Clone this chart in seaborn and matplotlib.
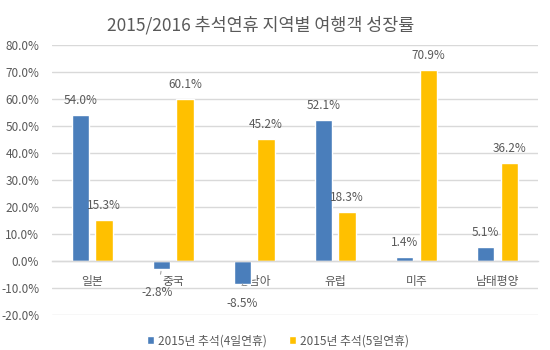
import matplotlib
matplotlib.use("Agg")
import matplotlib.pyplot as plt
import seaborn as sns
import pandas as pd
from matplotlib.ticker import FuncFormatter, MultipleLocator

regions = ["일본", "중국", "동남아", "유럽", "미주", "남태평양"]
series_names = ["2015년 추석(4일연휴)", "2015년 추석(5일연휴)"]
growth_4day = [54.0, -2.8, -8.5, 52.1, 1.4, 5.1]
growth_5day = [15.3, 60.1, 45.2, 18.3, 70.9, 36.2]
colors = ["#4a7ebb", "#ffc000"]

df = pd.DataFrame({
    "region": regions * 2,
    "series": [series_names[0]] * len(regions) + [series_names[1]] * len(regions),
    "value": growth_4day + growth_5day,
})

sns.set_theme(style="white")
plt.rcParams["font.family"] = ["Noto Sans CJK KR", "DejaVu Sans"]
text_color = "#595959"
grid_color = "#d9d9d9"

fig = plt.figure(figsize=(5.5, 3.5), dpi=100)
ax = fig.add_axes([0.094, 0.10, 0.884, 0.771])

sns.barplot(data=df, x="region", y="value", hue="series", order=regions,
            hue_order=series_names, palette=colors, width=0.58, gap=0.27,
            saturation=1, ax=ax, legend=True)

ax.set_ylim(-20, 80)
ax.set_xlim(-0.5, 5.5)
ax.yaxis.set_major_locator(MultipleLocator(10))
ax.yaxis.set_major_formatter(FuncFormatter(lambda v, p: f"{v:.1f}%"))
ax.grid(axis="y", color=grid_color, linewidth=1)
ax.set_axisbelow(True)
for side in ["top", "right", "left"]:
    ax.spines[side].set_visible(False)
ax.spines["bottom"].set_position(("data", 0))
ax.spines["bottom"].set_color(grid_color)
ax.spines["bottom"].set_linewidth(1)
ax.tick_params(axis="y", length=0, pad=9, labelsize=8.5, labelcolor=text_color)
ax.tick_params(axis="x", length=0, pad=10, labelsize=8.5, labelcolor=text_color)
ax.set_xlabel("")
ax.set_ylabel("")

# value labels: above positive bars, pushed below negative bars with leader lines
neg_offsets = {1: (-3, -17), 2: (0, -14)}
for container, vals in zip(ax.containers, [growth_4day, growth_5day]):
    for i, (bar, v) in enumerate(zip(container, vals)):
        x = bar.get_x() + bar.get_width() / 2
        if v >= 0:
            ax.annotate(f"{v:.1f}%", (x, v), xytext=(0, 10.5),
                        textcoords="offset points", ha="center", va="center",
                        fontsize=8.5, color=text_color)
        else:
            dx, dy = neg_offsets.get(i, (0, -14))
            ax.annotate(f"{v:.1f}%", (x, v), xytext=(dx, dy),
                        textcoords="offset points", ha="center", va="center",
                        fontsize=8.5, color=text_color,
                        arrowprops=dict(arrowstyle="-", color="#a6a6a6",
                                        lw=0.8, shrinkA=6, shrinkB=2))

handles, labels = ax.get_legend_handles_labels()
ax.get_legend().remove()
fig.legend(handles, labels, loc="center", bbox_to_anchor=(0.505, 0.026), ncol=2,
           frameon=False, fontsize=8.5, labelcolor=text_color,
           handlelength=0.6, handleheight=0.6, handletextpad=0.3,
           columnspacing=1.9)

fig.suptitle("2015/2016 추석연휴 지역별 여행객 성장률", x=0.473, y=0.955,
             fontsize=12.5, color=text_color)

fig.savefig("out.png", dpi=100)
